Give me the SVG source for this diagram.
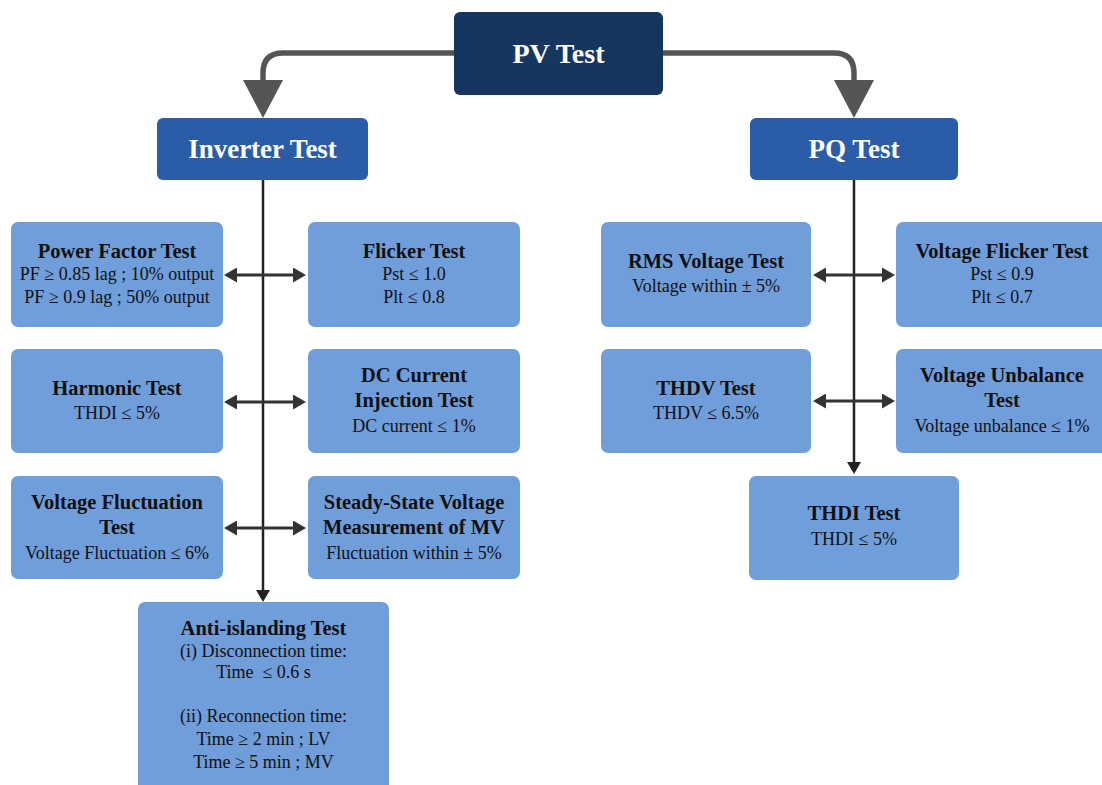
<svg xmlns="http://www.w3.org/2000/svg" width="1102" height="785" viewBox="0 0 1102 785">
  <style>
    text { font-family: "Liberation Serif", "Times New Roman", serif; text-anchor: middle; }
    .root { fill: #17365f; }
    .mid { fill: #2a5ca8; }
    .leaf { fill: #6f9edb; }
    .t-root { font-size: 28px; font-weight: bold; fill: #ffffff; }
    .t-mid { font-size: 27px; font-weight: bold; fill: #ffffff; }
    .t-head { font-size: 20.5px; font-weight: bold; fill: #111111; }
    .t-body { font-size: 18px; fill: #111111; }
    .trunk { stroke: #555555; stroke-width: 5.5; fill: none; }
    .spine { stroke: #222222; stroke-width: 2.5; fill: none; }
    .branch { stroke: #333333; stroke-width: 3; fill: none; }
  </style>
  <defs>
    <marker id="bigHead" markerUnits="userSpaceOnUse" markerWidth="40" markerHeight="40" refX="0" refY="20" orient="auto" viewBox="0 0 40 40">
      <path d="M0,0 L38,20 L0,40 Z" fill="#555555"/>
    </marker>
    <marker id="smallHead" markerUnits="userSpaceOnUse" markerWidth="14" markerHeight="15" refX="0" refY="7.5" orient="auto-start-reverse" viewBox="0 0 14 15">
      <path d="M0,0 L13,7.5 L0,15 Z" fill="#333333"/>
    </marker>
    <marker id="spineHead" markerUnits="userSpaceOnUse" markerWidth="13" markerHeight="14" refX="0" refY="7" orient="auto" viewBox="0 0 13 14">
      <path d="M0,0 L12,7 L0,14 Z" fill="#222222"/>
    </marker>
  </defs>

  <rect width="1102" height="785" fill="#ffffff"/>

  <g id="connectors">
    <!-- root to the two category boxes -->
    <path class="trunk" d="M456,53 H283 Q263,53 263,73 V80" marker-end="url(#bigHead)"/>
    <path class="trunk" d="M661,53 H834 Q854,53 854,73 V80" marker-end="url(#bigHead)"/>
    <!-- vertical spines -->
    <path class="spine" d="M263,180 V590" marker-end="url(#spineHead)"/>
    <path class="spine" d="M854,180 V462" marker-end="url(#spineHead)"/>
    <!-- inverter branches -->
    <path class="branch" d="M237,275 H293" marker-start="url(#smallHead)" marker-end="url(#smallHead)"/>
    <path class="branch" d="M237,402 H293" marker-start="url(#smallHead)" marker-end="url(#smallHead)"/>
    <path class="branch" d="M237,528 H293" marker-start="url(#smallHead)" marker-end="url(#smallHead)"/>
    <!-- PQ branches -->
    <path class="branch" d="M826,275 H882" marker-start="url(#smallHead)" marker-end="url(#smallHead)"/>
    <path class="branch" d="M826,401 H882" marker-start="url(#smallHead)" marker-end="url(#smallHead)"/>
  </g>

  <g id="pv-test">
    <rect class="root" x="454" y="12" width="209" height="83" rx="6"/>
    <text class="t-root" x="558.5" y="63">PV Test</text>
  </g>

  <g id="inverter-test">
    <rect class="mid" x="157" y="118" width="211" height="62" rx="6"/>
    <text class="t-mid" x="262.5" y="158">Inverter Test</text>
  </g>

  <g id="pq-test">
    <rect class="mid" x="750" y="118" width="208" height="62" rx="6"/>
    <text class="t-mid" x="854" y="158">PQ Test</text>
  </g>

  <g id="power-factor-test">
    <rect class="leaf" x="11" y="222" width="212" height="105" rx="7"/>
    <text class="t-head" x="117" y="258">Power Factor Test</text>
    <text class="t-body" x="117" y="280">PF ≥ 0.85 lag ; 10% output</text>
    <text class="t-body" x="117" y="303">PF ≥ 0.9 lag ; 50% output</text>
  </g>

  <g id="flicker-test">
    <rect class="leaf" x="308" y="222" width="212" height="105" rx="7"/>
    <text class="t-head" x="414" y="258">Flicker Test</text>
    <text class="t-body" x="414" y="280">Pst ≤ 1.0</text>
    <text class="t-body" x="414" y="303">Plt ≤ 0.8</text>
  </g>

  <g id="harmonic-test">
    <rect class="leaf" x="11" y="349" width="212" height="104" rx="7"/>
    <text class="t-head" x="117" y="395">Harmonic Test</text>
    <text class="t-body" x="117" y="419">THDI ≤ 5%</text>
  </g>

  <g id="dc-current-injection-test">
    <rect class="leaf" x="308" y="349" width="212" height="104" rx="7"/>
    <text class="t-head" x="414" y="382">DC Current</text>
    <text class="t-head" x="414" y="407">Injection Test</text>
    <text class="t-body" x="414" y="432">DC current ≤ 1%</text>
  </g>

  <g id="voltage-fluctuation-test">
    <rect class="leaf" x="11" y="476" width="212" height="103" rx="7"/>
    <text class="t-head" x="117" y="509">Voltage Fluctuation</text>
    <text class="t-head" x="117" y="534">Test</text>
    <text class="t-body" x="117" y="559">Voltage Fluctuation ≤ 6%</text>
  </g>

  <g id="steady-state-voltage-test">
    <rect class="leaf" x="308" y="476" width="212" height="103" rx="7"/>
    <text class="t-head" x="414" y="509">Steady-State Voltage</text>
    <text class="t-head" x="414" y="534">Measurement of MV</text>
    <text class="t-body" x="414" y="559">Fluctuation within ± 5%</text>
  </g>

  <g id="anti-islanding-test">
    <rect class="leaf" x="138" y="602" width="251" height="200" rx="7"/>
    <text class="t-head" x="263.5" y="635">Anti-islanding Test</text>
    <text class="t-body" x="263.5" y="657">(i) Disconnection time:</text>
    <text class="t-body" x="263.5" y="678" xml:space="preserve">Time  ≤ 0.6 s</text>
    <text class="t-body" x="263.5" y="722">(ii) Reconnection time:</text>
    <text class="t-body" x="263.5" y="745">Time ≥ 2 min ; LV</text>
    <text class="t-body" x="263.5" y="768">Time ≥ 5 min ; MV</text>
  </g>

  <g id="rms-voltage-test">
    <rect class="leaf" x="601" y="222" width="210" height="105" rx="7"/>
    <text class="t-head" x="706" y="268">RMS Voltage Test</text>
    <text class="t-body" x="706" y="292">Voltage within ± 5%</text>
  </g>

  <g id="voltage-flicker-test">
    <rect class="leaf" x="896" y="222" width="212" height="105" rx="7"/>
    <text class="t-head" x="1002" y="258">Voltage Flicker Test</text>
    <text class="t-body" x="1002" y="280">Pst ≤ 0.9</text>
    <text class="t-body" x="1002" y="303">Plt ≤ 0.7</text>
  </g>

  <g id="thdv-test">
    <rect class="leaf" x="601" y="349" width="210" height="104" rx="7"/>
    <text class="t-head" x="706" y="395">THDV Test</text>
    <text class="t-body" x="706" y="419">THDV ≤ 6.5%</text>
  </g>

  <g id="voltage-unbalance-test">
    <rect class="leaf" x="896" y="349" width="212" height="104" rx="7"/>
    <text class="t-head" x="1002" y="382">Voltage Unbalance</text>
    <text class="t-head" x="1002" y="407">Test</text>
    <text class="t-body" x="1002" y="432">Voltage unbalance ≤ 1%</text>
  </g>

  <g id="thdi-test">
    <rect class="leaf" x="749" y="476" width="210" height="104" rx="7"/>
    <text class="t-head" x="854" y="520">THDI Test</text>
    <text class="t-body" x="854" y="545">THDI ≤ 5%</text>
  </g>
</svg>
